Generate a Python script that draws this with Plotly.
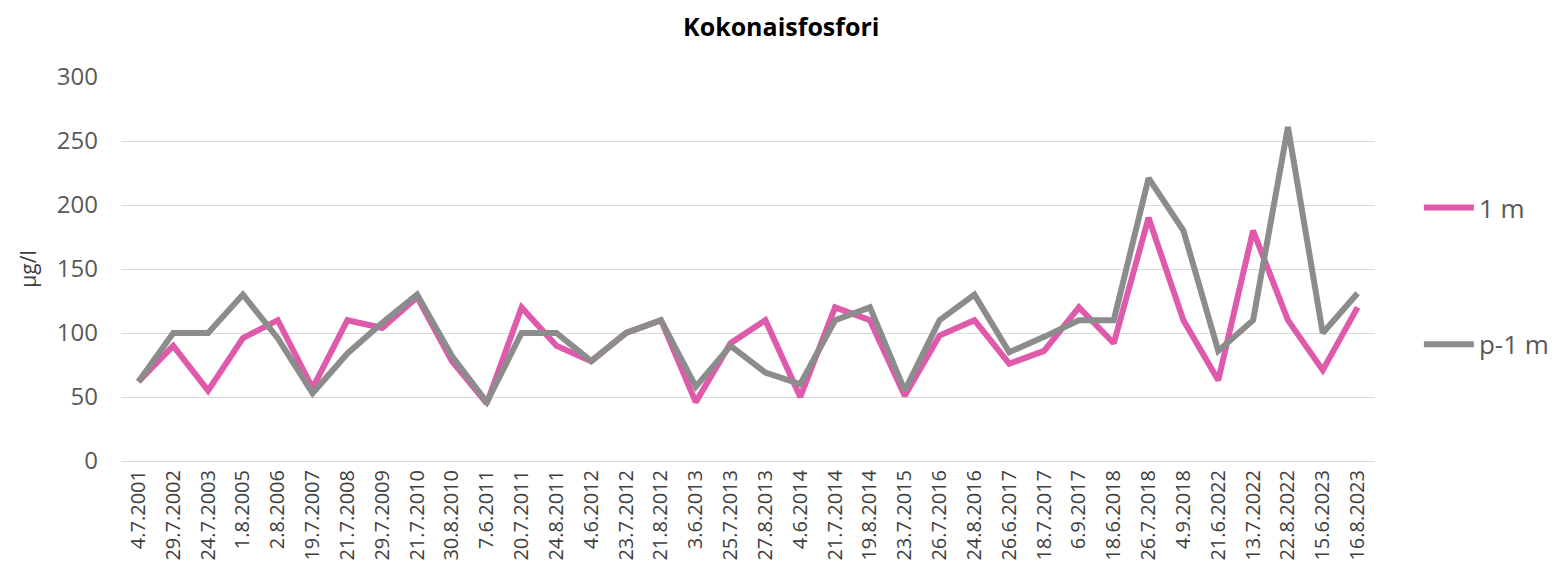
import plotly.graph_objects as go

dates = ["4.7.2001", "29.7.2002", "24.7.2003", "1.8.2005", "2.8.2006", "19.7.2007",
         "21.7.2008", "29.7.2009", "21.7.2010", "30.8.2010", "7.6.2011", "20.7.2011",
         "24.8.2011", "4.6.2012", "23.7.2012", "21.8.2012", "3.6.2013", "25.7.2013",
         "27.8.2013", "4.6.2014", "21.7.2014", "19.8.2014", "23.7.2015", "26.7.2016",
         "24.8.2016", "26.6.2017", "18.7.2017", "6.9.2017", "18.6.2018", "26.7.2018",
         "4.9.2018", "21.6.2022", "13.7.2022", "22.8.2022", "15.6.2023", "16.8.2023"]

depth_1m = [62, 90, 55, 96, 110, 57, 110, 104, 128, 78, 45, 120,
            90, 78, 100, 110, 46, 92, 110, 50, 120, 110, 51, 98,
            110, 76, 86, 120, 92, 190, 110, 63, 180, 110, 71, 120]

depth_p1m = [62, 100, 100, 130, 96, 53, 84, 108, 130, 82, 46, 100,
             100, 78, 100, 110, 58, 90, 69, 60, 110, 120, 55, 110,
             130, 85, 97, 110, 110, 221, 180, 86, 110, 261, 100, 131]

series_names = ["1 m", "p-1 m"]
colors = ["#DF5AAB", "#8C8C8C"]

fig = go.Figure()
for name, vals, col in zip(series_names, [depth_1m, depth_p1m], colors):
    fig.add_trace(go.Scatter(
        x=dates, y=vals, mode="lines", name=name, legendgroup=name,
        line=dict(color=col, width=6, shape="linear"),
    ))

fig.update_layout(
    width=1559, height=580,
    paper_bgcolor="white", plot_bgcolor="white",
    font=dict(family="Open Sans, Liberation Sans, sans-serif", color="#595959"),
    title=dict(text="<b>Kokonaisfosfori</b>", x=0.496, xanchor="center",
               xref="container", y=0.966, yanchor="middle",
               font=dict(size=25, color="#000000")),
    margin=dict(l=113, r=192, t=69, b=127),
    showlegend=True,
    legend=dict(x=1.035, xanchor="left", y=0.721, yanchor="top",
                tracegroupgap=100, itemwidth=50,
                font=dict(size=26, color="#595959"),
                bgcolor="rgba(0,0,0,0)"),
)
fig.update_xaxes(
    type="category", range=[-0.5, len(dates) - 0.5],
    tickangle=-90, tickfont=dict(size=20, color="#404040"),
    showgrid=False, showline=True, linecolor="#D9D9D9", linewidth=1,
    ticks="", ticklen=0,
)
fig.update_yaxes(
    range=[0, 300], dtick=50, tick0=0,
    showgrid=True, gridcolor="#D9D9D9", gridwidth=1,
    zeroline=False, showline=False,
    tickfont=dict(size=24, color="#595959"), ticklabelstandoff=22,
    title=dict(text="µg/l", font=dict(size=21, color="#404040"), standoff=14),
)

fig.write_html("out.html")
